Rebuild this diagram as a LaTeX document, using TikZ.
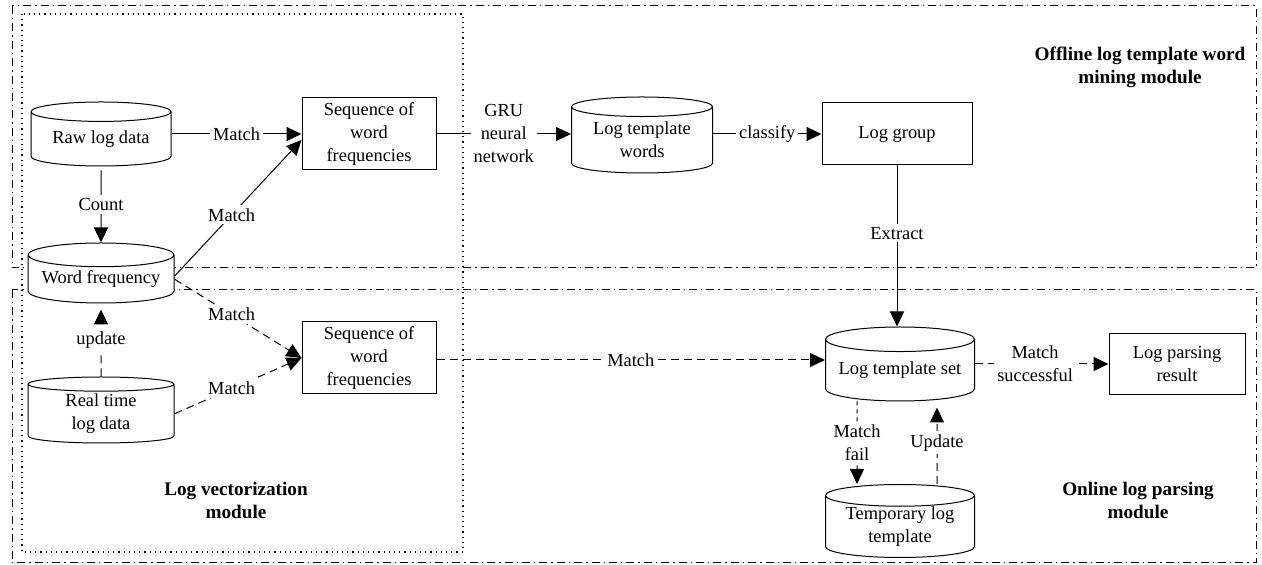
\documentclass[tikz,border=0pt]{standalone}
\usepackage{fontspec}
\setmainfont{Liberation Serif}
\usepackage{tikz}
\usetikzlibrary{arrows.meta,positioning,shapes.geometric}

\tikzset{
  base/.style={font=\fontsize{9.2}{11.5}\selectfont,align=center,line width=0.5pt,fill=white},
  dbnode/.style={base,draw,cylinder,shape border rotate=90,aspect=0.2,inner sep=0pt,anchor=shape center},
  boxnode/.style={base,draw,rectangle,inner sep=0pt},
  lbl/.style={font=\fontsize{9.2}{11.5}\selectfont,align=center,fill=white,inner sep=1.5pt},
  modlbl/.style={font=\fontsize{9.6}{11.5}\selectfont\bfseries,align=center},
  flow/.style={line width=0.5pt,-{Triangle[length=7.5pt,width=7pt]}},
  dflow/.style={flow,dash pattern=on 4pt off 2.5pt},
  sflow/.style={flow,dash pattern=on 2pt off 2pt},
  modbox/.style={line width=0.5pt,dash pattern=on 4pt off 2pt on 0.7pt off 2pt},
  vecbox/.style={line width=0.6pt,dash pattern=on 0.6pt off 2pt}
}

\begin{document}
\begin{tikzpicture}[x=0.5pt,y=-0.5pt]
        \useasboundingbox (0,0) rectangle (1262,565);
        % module frames
        \draw[modbox] (12,6) rectangle (1256,268);
        \draw[modbox] (12,290) rectangle (1256,563);
        \draw[vecbox] (22,14) rectangle (463,552);
        \node[modlbl] (offmod) at (1140,67)  {Offline log template word\\mining module};
        \node[modlbl] (vecmod) at (236,500)  {Log vectorization\\module};
        \node[modlbl] (onmod)  at (1138,500) {Online log parsing\\module};
        % nodes
        \node[dbnode,minimum width=70pt,minimum height=32pt]    (raw)  at (101,134) {Raw log data};
        \node[dbnode,minimum width=73pt,minimum height=30pt]    (wfreq) at (101,273) {Word frequency};
        \node[dbnode,minimum width=73pt,minimum height=33pt]    (rtlog) at (101,410) {Real time\\log data};
        \node[boxnode,minimum width=67pt,minimum height=36pt]   (seqa) at (369,134) {Sequence of\\word\\frequencies};
        \node[boxnode,minimum width=67pt,minimum height=36pt]   (seqb) at (369,358) {Sequence of\\word\\frequencies};
        \node[dbnode,minimum width=70.5pt,minimum height=38pt]  (tplwords) at (642,135) {Log template\\words};
        \node[boxnode,minimum width=75pt,minimum height=31pt]   (group) at (897,134) {Log group};
        \node[dbnode,minimum width=74.5pt,minimum height=37pt]  (tplset) at (900,364) {Log template set};
        \node[boxnode,minimum width=68pt,minimum height=30.5pt] (result) at (1177,364) {Log parsing\\result};
        \node[dbnode,minimum width=74.5pt,minimum height=36.5pt] (tmptpl) at (900,521) {Temporary log\\template};
        % connectors
        \draw[flow] (raw.east |- seqa.west) -- node[lbl]{Match} (seqa.west);
        \draw[flow,shorten <=2pt] (raw.south) -- node[lbl]{Count} (wfreq.north);
        \draw[flow] ([yshift=1.5pt]wfreq.east) -- node[lbl,pos=0.45]{Match} ([yshift=-3pt]seqa.west);
        \draw[dflow] (wfreq.east) -- node[lbl,pos=0.45]{Match} (seqb.west);
        \draw[dflow] (rtlog.east) -- node[lbl,pos=0.45]{Match} (seqb.west);
        \draw[dflow,shorten >=3pt] (rtlog.north) -- node[lbl]{update} (wfreq.south);
        \draw[flow] (seqa.east) -- node[lbl]{GRU\\neural\\network} (tplwords.west |- seqa.east);
        \draw[flow] (tplwords.east |- group.west) -- node[lbl]{classify} (group.west);
        \draw[flow] (group.south) -- node[lbl,pos=0.42]{Extract} (group.south |- tplset.north);
        \draw[dflow] ([yshift=-1pt]seqb.east) -- node[lbl]{Match} ([yshift=-1pt]seqb.east -| tplset.west);
        \draw[dflow] (tplset.east |- result.west) -- node[lbl,pos=0.45]{Match\\successful} (result.west);
        \draw[sflow] ([xshift=-21.5pt]tplset.south) -- node[lbl]{Match\\fail} ([xshift=-21.5pt]tmptpl.north);
        \draw[dflow,shorten >=3pt] ([xshift=18.5pt]tmptpl.north) -- node[lbl]{Update} ([xshift=18.5pt]tplset.south);
\end{tikzpicture}
\end{document}
